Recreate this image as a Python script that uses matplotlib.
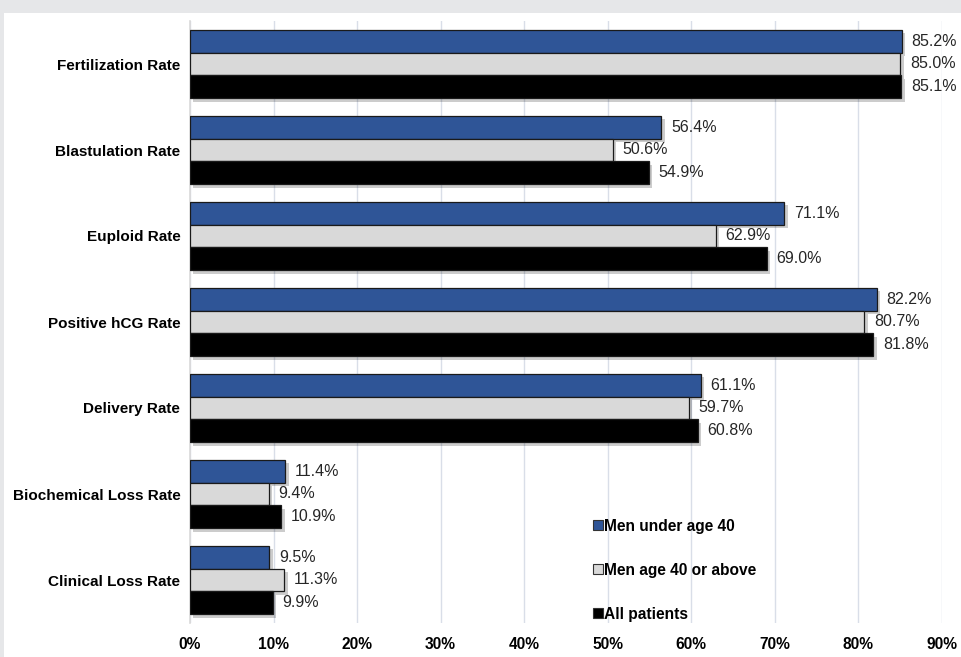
import matplotlib
matplotlib.use("Agg")
import matplotlib.pyplot as plt
import matplotlib.patheffects as pe
from matplotlib.patches import Patch, Rectangle
import numpy as np

categories = ["Fertilization Rate", "Blastulation Rate", "Euploid Rate",
              "Positive hCG Rate", "Delivery Rate", "Biochemical Loss Rate",
              "Clinical Loss Rate"]
series_names = ["Men under age 40", "Men age 40 or above", "All patients"]
under40 = [85.2, 56.4, 71.1, 82.2, 61.1, 11.4, 9.5]
over40 = [85.0, 50.6, 62.9, 80.7, 59.7, 9.4, 11.3]
all_patients = [85.1, 54.9, 69.0, 81.8, 60.8, 10.9, 9.9]
x_ticks = [0, 10, 20, 30, 40, 50, 60, 70, 80, 90]
x_tick_labels = [f"{t}%" for t in x_ticks]

colors = ["#2F5597", "#D9D9D9", "#000000"]

plt.rcParams['font.family'] = ['Liberation Sans', 'DejaVu Sans']

fig = plt.figure(figsize=(9.61, 6.57), dpi=100)
fig.patch.set_facecolor("#E6E7E9")
# white panel
fig.add_artist(Rectangle((4 / 961, 0), 1, 1 - 13 / 657, transform=fig.transFigure,
                         facecolor="white", edgecolor="none", zorder=0))

ax = fig.add_axes([190 / 961, 1 - 623 / 657, 752 / 961, 602 / 657])
ax.set_facecolor("none")

n = len(categories)
y = np.arange(n)
h = 0.267
all_series = [under40, over40, all_patients]
offsets = [-h, 0, h]
shadow = [pe.SimplePatchShadow(offset=(2.5, -2.5), shadow_rgbFace="#000000", alpha=0.2), pe.Normal()]
for vals, off, col, name in zip(all_series, offsets, colors, series_names):
    bars = ax.barh(y + off, vals, height=h, color=col, edgecolor="#1a1a1a",
                   linewidth=0.9, label=name, zorder=3)
    for b in bars:
        b.set_path_effects(shadow)
    for yy, v in zip(y + off, vals):
        ax.annotate(f"{v:.1f}%", (v, yy), xytext=(7, 0), textcoords="offset points",
                    va="center", ha="left", fontsize=11.5, color="#262626", zorder=4)

ax.set_xlim(0, 90)
ax.set_ylim(n - 0.5, -0.5)
ax.set_xticks(x_ticks)
ax.set_xticklabels(x_tick_labels, fontsize=11.2, fontweight="bold")
ax.set_yticks(y)
ax.set_yticklabels(categories, fontsize=11.0, fontweight="bold")
ax.tick_params(axis="both", length=0)
ax.tick_params(axis="x", pad=10)
ax.tick_params(axis="y", pad=7)
ax.grid(axis="x", color="#D9DEE8", linewidth=1, zorder=0)
ax.set_axisbelow(True)
for s in ["top", "right", "bottom"]:
    ax.spines[s].set_visible(False)
ax.spines["left"].set_color("#D9D9D9")
ax.spines["left"].set_linewidth(1.2)

handles = [Patch(facecolor=c, edgecolor="#333333", linewidth=0.8) for c in colors]
leg = ax.legend(handles, series_names, loc="upper left", bbox_to_anchor=(0.5275, 0.1836),
                frameon=False, prop={"weight": "bold", "size": 11.2},
                labelspacing=1.87, handlelength=0.62, handleheight=0.62,
                handletextpad=0.12, borderaxespad=0)

fig.savefig("out.png", dpi=100, facecolor=fig.get_facecolor())
